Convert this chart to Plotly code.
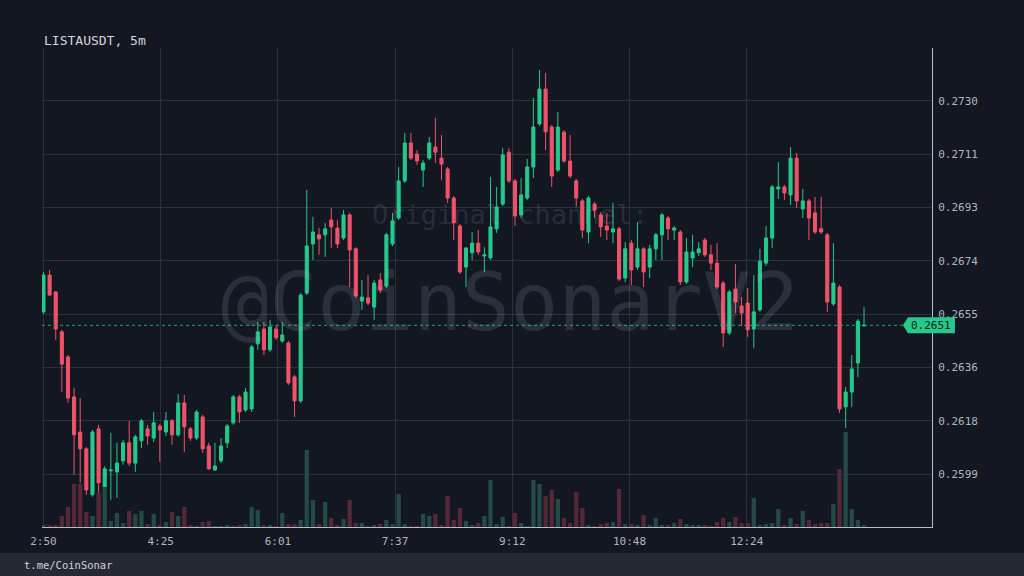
import plotly.graph_objects as go
import pandas as pd

# ---------------- data ----------------
times = pd.date_range("2024-05-20 02:50", periods=135, freq="5min")

open_ = [0.26559, 0.26688, 0.26629, 0.26489, 0.26401, 0.26261, 0.26138, 0.26079, 0.25918, 0.26149,
         0.25946, 0.26002, 0.25998, 0.26037, 0.26100, 0.26029, 0.26107, 0.26149, 0.26117, 0.26159,
         0.26138, 0.26177, 0.26128, 0.26240, 0.26149, 0.26117, 0.26191, 0.26089, 0.26005, 0.26037,
         0.26100, 0.26170, 0.26261, 0.26215, 0.26219, 0.26447, 0.26499, 0.26426, 0.26499, 0.26457,
         0.26450, 0.26331, 0.26247, 0.26625, 0.26797, 0.26829, 0.26829, 0.26881, 0.26853, 0.26818,
         0.26899, 0.26780, 0.26597, 0.26608, 0.26576, 0.26671, 0.26650, 0.26797, 0.26888, 0.27018,
         0.27151, 0.27112, 0.27056, 0.27098, 0.27137, 0.27098, 0.27060, 0.26958, 0.26860, 0.26716,
         0.26766, 0.26800, 0.26755, 0.26748, 0.26850, 0.26937, 0.27119, 0.27018, 0.26899, 0.26958,
         0.27067, 0.27218, 0.27340, 0.27207, 0.27056, 0.27189, 0.27088, 0.27018, 0.26948, 0.26839,
         0.26937, 0.26899, 0.26860, 0.26839, 0.26850, 0.26678, 0.26800, 0.26716, 0.26780, 0.26716,
         0.26780, 0.26829, 0.26888, 0.26846, 0.26839, 0.26664, 0.26748, 0.26766, 0.26811, 0.26759,
         0.26730, 0.26660, 0.26485, 0.26639, 0.26580, 0.26590, 0.26499, 0.26566, 0.26730, 0.26818,
         0.26990, 0.26997, 0.26969, 0.27098, 0.26920, 0.26948, 0.26906, 0.26850, 0.26829, 0.26587,
         0.26646, 0.26226, 0.26278, 0.26380, 0.26510]

high = [0.26699, 0.26706, 0.26632, 0.26496, 0.26408, 0.26292, 0.26257, 0.26086, 0.26145, 0.26163,
        0.26019, 0.26135, 0.26100, 0.26110, 0.26177, 0.26128, 0.26184, 0.26163, 0.26208, 0.26166,
        0.26208, 0.26184, 0.26271, 0.26268, 0.26156, 0.26215, 0.26198, 0.26100, 0.26100, 0.26117,
        0.26166, 0.26268, 0.26268, 0.26292, 0.26443, 0.26524, 0.26524, 0.26531, 0.26513, 0.26524,
        0.26457, 0.26338, 0.26625, 0.26986, 0.26892, 0.26853, 0.26871, 0.26923, 0.26881, 0.26916,
        0.26906, 0.26786, 0.26671, 0.26688, 0.26671, 0.26695, 0.26836, 0.26906, 0.27067, 0.27186,
        0.27186, 0.27126, 0.27091, 0.27172, 0.27239, 0.27179, 0.27067, 0.26965, 0.26867, 0.26786,
        0.26839, 0.26846, 0.26786, 0.27032, 0.26997, 0.27133, 0.27133, 0.27025, 0.27028, 0.27095,
        0.27309, 0.27407, 0.27396, 0.27214, 0.27259, 0.27196, 0.27179, 0.27025, 0.26955, 0.26965,
        0.26944, 0.26909, 0.26906, 0.26941, 0.26857, 0.26804, 0.26811, 0.26874, 0.26786, 0.26794,
        0.26836, 0.26906, 0.26895, 0.26860, 0.26846, 0.26818, 0.26829, 0.26804, 0.26818, 0.26794,
        0.26800, 0.26667, 0.26636, 0.26727, 0.26611, 0.26643, 0.26688, 0.26780, 0.26860, 0.27004,
        0.27084, 0.27004, 0.27137, 0.27116, 0.26990, 0.26955, 0.26962, 0.26962, 0.26836, 0.26800,
        0.26653, 0.26296, 0.26408, 0.26534, 0.26576]

low = [0.26552, 0.26615, 0.26461, 0.26278, 0.26240, 0.25988, 0.25960, 0.25918, 0.25911, 0.25925,
       0.25935, 0.25900, 0.25907, 0.26023, 0.26019, 0.25998, 0.26082, 0.26093, 0.26103, 0.26033,
       0.26124, 0.26093, 0.26121, 0.26068, 0.26107, 0.26110, 0.26065, 0.26005, 0.26002, 0.26029,
       0.26082, 0.26163, 0.26170, 0.26208, 0.26208, 0.26426, 0.26408, 0.26419, 0.26461, 0.26450,
       0.26303, 0.26191, 0.26240, 0.26618, 0.26741, 0.26759, 0.26752, 0.26783, 0.26783, 0.26811,
       0.26646, 0.26608, 0.26566, 0.26583, 0.26531, 0.26625, 0.26643, 0.26790, 0.26881, 0.27011,
       0.27091, 0.27074, 0.26997, 0.27091, 0.27081, 0.27021, 0.26941, 0.26811, 0.26692, 0.26646,
       0.26741, 0.26759, 0.26699, 0.26741, 0.26836, 0.26930, 0.27011, 0.26860, 0.26888, 0.26951,
       0.27028, 0.27211, 0.27126, 0.26997, 0.27049, 0.27081, 0.27028, 0.26927, 0.26818, 0.26800,
       0.26888, 0.26822, 0.26811, 0.26800, 0.26667, 0.26664, 0.26653, 0.26706, 0.26646, 0.26678,
       0.26741, 0.26741, 0.26811, 0.26811, 0.26653, 0.26657, 0.26716, 0.26755, 0.26752, 0.26706,
       0.26639, 0.26436, 0.26478, 0.26555, 0.26510, 0.26471, 0.26433, 0.26559, 0.26720, 0.26783,
       0.26955, 0.26951, 0.26934, 0.26923, 0.26888, 0.26811, 0.26832, 0.26832, 0.26559, 0.26580,
       0.26205, 0.26152, 0.26226, 0.26331, 0.26508]

close = [0.26688, 0.26618, 0.26499, 0.26376, 0.26257, 0.26128, 0.26079, 0.25935, 0.26138, 0.25960,
         0.26009, 0.26005, 0.26029, 0.26100, 0.26029, 0.26121, 0.26177, 0.26124, 0.26170, 0.26145,
         0.26177, 0.26128, 0.26240, 0.26156, 0.26117, 0.26208, 0.26079, 0.26009, 0.26019, 0.26089,
         0.26159, 0.26261, 0.26208, 0.26278, 0.26436, 0.26489, 0.26426, 0.26506, 0.26468, 0.26478,
         0.26310, 0.26247, 0.26618, 0.26790, 0.26839, 0.26815, 0.26850, 0.26857, 0.26797, 0.26899,
         0.26776, 0.26615, 0.26611, 0.26590, 0.26660, 0.26636, 0.26829, 0.26878, 0.27018, 0.27151,
         0.27098, 0.27088, 0.27081, 0.27151, 0.27119, 0.27077, 0.26958, 0.26871, 0.26699, 0.26783,
         0.26800, 0.26769, 0.26759, 0.26857, 0.26927, 0.27109, 0.27018, 0.26895, 0.26969, 0.27067,
         0.27207, 0.27340, 0.27190, 0.27035, 0.27207, 0.27088, 0.27035, 0.26958, 0.26846, 0.26958,
         0.26916, 0.26857, 0.26846, 0.26850, 0.26674, 0.26780, 0.26706, 0.26780, 0.26699, 0.26780,
         0.26829, 0.26899, 0.26850, 0.26853, 0.26664, 0.26769, 0.26769, 0.26780, 0.26759, 0.26730,
         0.26646, 0.26485, 0.26629, 0.26594, 0.26555, 0.26496, 0.26559, 0.26737, 0.26818, 0.26997,
         0.26997, 0.26976, 0.27098, 0.26948, 0.26948, 0.26888, 0.26839, 0.26839, 0.26594, 0.26660,
         0.26219, 0.26278, 0.26359, 0.26527, 0.26512]

volume = [2, 2, 2, 11, 20, 43, 43, 15, 11, 34,
          40, 6, 14, 4, 16, 13, 16, 3, 13, 2,
          5, 15, 11, 20, 2, 1, 5, 6, 1, 1,
          2, 1, 2, 3, 20, 17, 2, 2, 1, 14,
          3, 3, 7, 77, 27, 3, 25, 9, 2, 8,
          27, 4, 4, 1, 2, 3, 7, 3, 33, 3,
          1, 1, 13, 11, 13, 2, 31, 7, 19, 6,
          2, 4, 11, 47, 3, 10, 1, 14, 4, 1,
          47, 43, 31, 37, 28, 9, 4, 35, 19, 2,
          1, 3, 4, 5, 38, 3, 3, 2, 12, 2,
          9, 2, 2, 4, 8, 3, 2, 2, 2, 1,
          5, 9, 5, 10, 4, 4, 29, 2, 3, 4,
          18, 2, 9, 3, 16, 7, 3, 4, 4, 23,
          58, 95, 18, 7, 2]

price_ticks = [0.25990, 0.26177, 0.26364, 0.26551, 0.26738, 0.26925, 0.27112, 0.27299]
price_labels = ["0.2599", "0.2618", "0.2636", "0.2655", "0.2674", "0.2693", "0.2711", "0.2730"]

time_ticks = ["2024-05-20 02:50:00", "2024-05-20 04:25:42", "2024-05-20 06:01:24",
              "2024-05-20 07:37:06", "2024-05-20 09:12:48", "2024-05-20 10:48:30",
              "2024-05-20 12:24:12"]
time_labels = ["2:50", "4:25", "6:01", "7:37", "9:12", "10:48", "12:24"]

symbol = "LISTAUSDT, 5m"
footer = "t.me/CoinSonar"

# ---------------- style ----------------
BG = "#131722"
GRID = "#2c303b"
UP = "#26c88c"
DOWN = "#ef5369"
UP_VOL = "#234a44"
DOWN_VOL = "#552838"
FONT = "DejaVu Sans Mono"

y_range = [0.25805, 0.27484]
x_range = ["2024-05-20 02:48:48", "2024-05-20 14:55:30"]

fig = go.Figure()

vol_colors = [UP_VOL if c >= o else DOWN_VOL for o, c in zip(open_, close)]
fig.add_trace(go.Bar(x=times, y=volume, marker=dict(color=vol_colors, line=dict(width=0)),
                     yaxis="y2", hoverinfo="skip", showlegend=False))

fig.add_trace(go.Candlestick(
    x=times, open=open_, high=high, low=low, close=close,
    increasing=dict(line=dict(color=UP, width=1), fillcolor=UP),
    decreasing=dict(line=dict(color=DOWN, width=1), fillcolor=DOWN),
    whiskerwidth=0, hoverinfo="skip", showlegend=False))

last = close[-1]
frac = (last - y_range[0]) / (y_range[1] - y_range[0])
half = 8 / 479

fig.update_layout(
    width=1024, height=576,
    margin=dict(l=42, r=92, t=48, b=49),
    paper_bgcolor=BG, plot_bgcolor=BG,
    font=dict(family=FONT, color="#b2b5be", size=11),
    showlegend=False,
    bargap=0.3, boxgap=0.28,
    xaxis=dict(type="date", range=x_range, rangeslider=dict(visible=False),
               tickvals=time_ticks, ticktext=time_labels, showgrid=True, gridcolor=GRID,
               gridwidth=1, showline=True, linecolor="#b8bbc4", linewidth=1, zeroline=False,
               ticks="", ticklabelstandoff=4, tickfont=dict(size=11, color="#b2b5be")),
    yaxis=dict(range=y_range, side="right", tickvals=price_ticks, ticktext=price_labels,
               showgrid=True, gridcolor=GRID, gridwidth=1, showline=True, linecolor="#b8bbc4",
               linewidth=1, zeroline=False, ticks="", ticklabelstandoff=3,
               tickfont=dict(size=11, color="#b2b5be")),
    yaxis2=dict(overlaying="y", range=[0, max(volume) * 5.04], visible=False),
    shapes=[
        dict(type="line", xref="paper", yref="y", x0=0, x1=1, y0=last, y1=last,
             line=dict(color="#26a67a", width=1, dash="3px,3px"), layer="above"),
        dict(type="path", xref="paper", yref="paper",
             path=f"M 0.9674 {frac} L 0.9730 {frac + half} L 1.0258 {frac + half} "
                  f"L 1.0258 {frac - half} L 0.9730 {frac - half} Z",
             fillcolor=UP, line=dict(width=0), layer="above"),
        dict(type="rect", xref="paper", yref="paper", x0=-0.06, x1=1.12, y0=-0.12, y1=-0.0543,
             fillcolor="#252934", line=dict(width=0), layer="above"),
    ],
    annotations=[
        dict(text="@CoinSonarV2", xref="paper", yref="paper", x=0.526, y=0.468,
             showarrow=False, font=dict(family=FONT, size=80, color="rgba(190,195,210,0.14)")),
        dict(text="Original channel:", xref="paper", yref="paper", x=0.526, y=0.652,
             showarrow=False, font=dict(family=FONT, size=27, color="rgba(190,195,210,0.14)")),
        dict(text=symbol, xref="paper", yref="paper", x=0, y=1.0167, xanchor="left",
             yanchor="middle", showarrow=False, font=dict(family=FONT, size=13, color="#d1d4dc")),
        dict(text=f"{last:.4f}", xref="paper", yref="paper", x=0.9994, y=frac,
             xanchor="center", yanchor="middle", showarrow=False,
             font=dict(family=FONT, size=11, color="#10231b")),
        dict(text=footer, xref="paper", yref="paper", x=-0.0225, y=-0.0793, xanchor="left",
             yanchor="middle", showarrow=False, font=dict(family=FONT, size=10.5, color="#d1d4dc")),
    ],
)

fig.write_html("out.html",
               config={"displayModeBar": False, "staticPlot": True},
               post_script="document.body.style.margin='0';document.body.style.padding='0';"
                           "document.body.style.overflow='hidden';"
                           "document.documentElement.style.background='" + BG + "';")
